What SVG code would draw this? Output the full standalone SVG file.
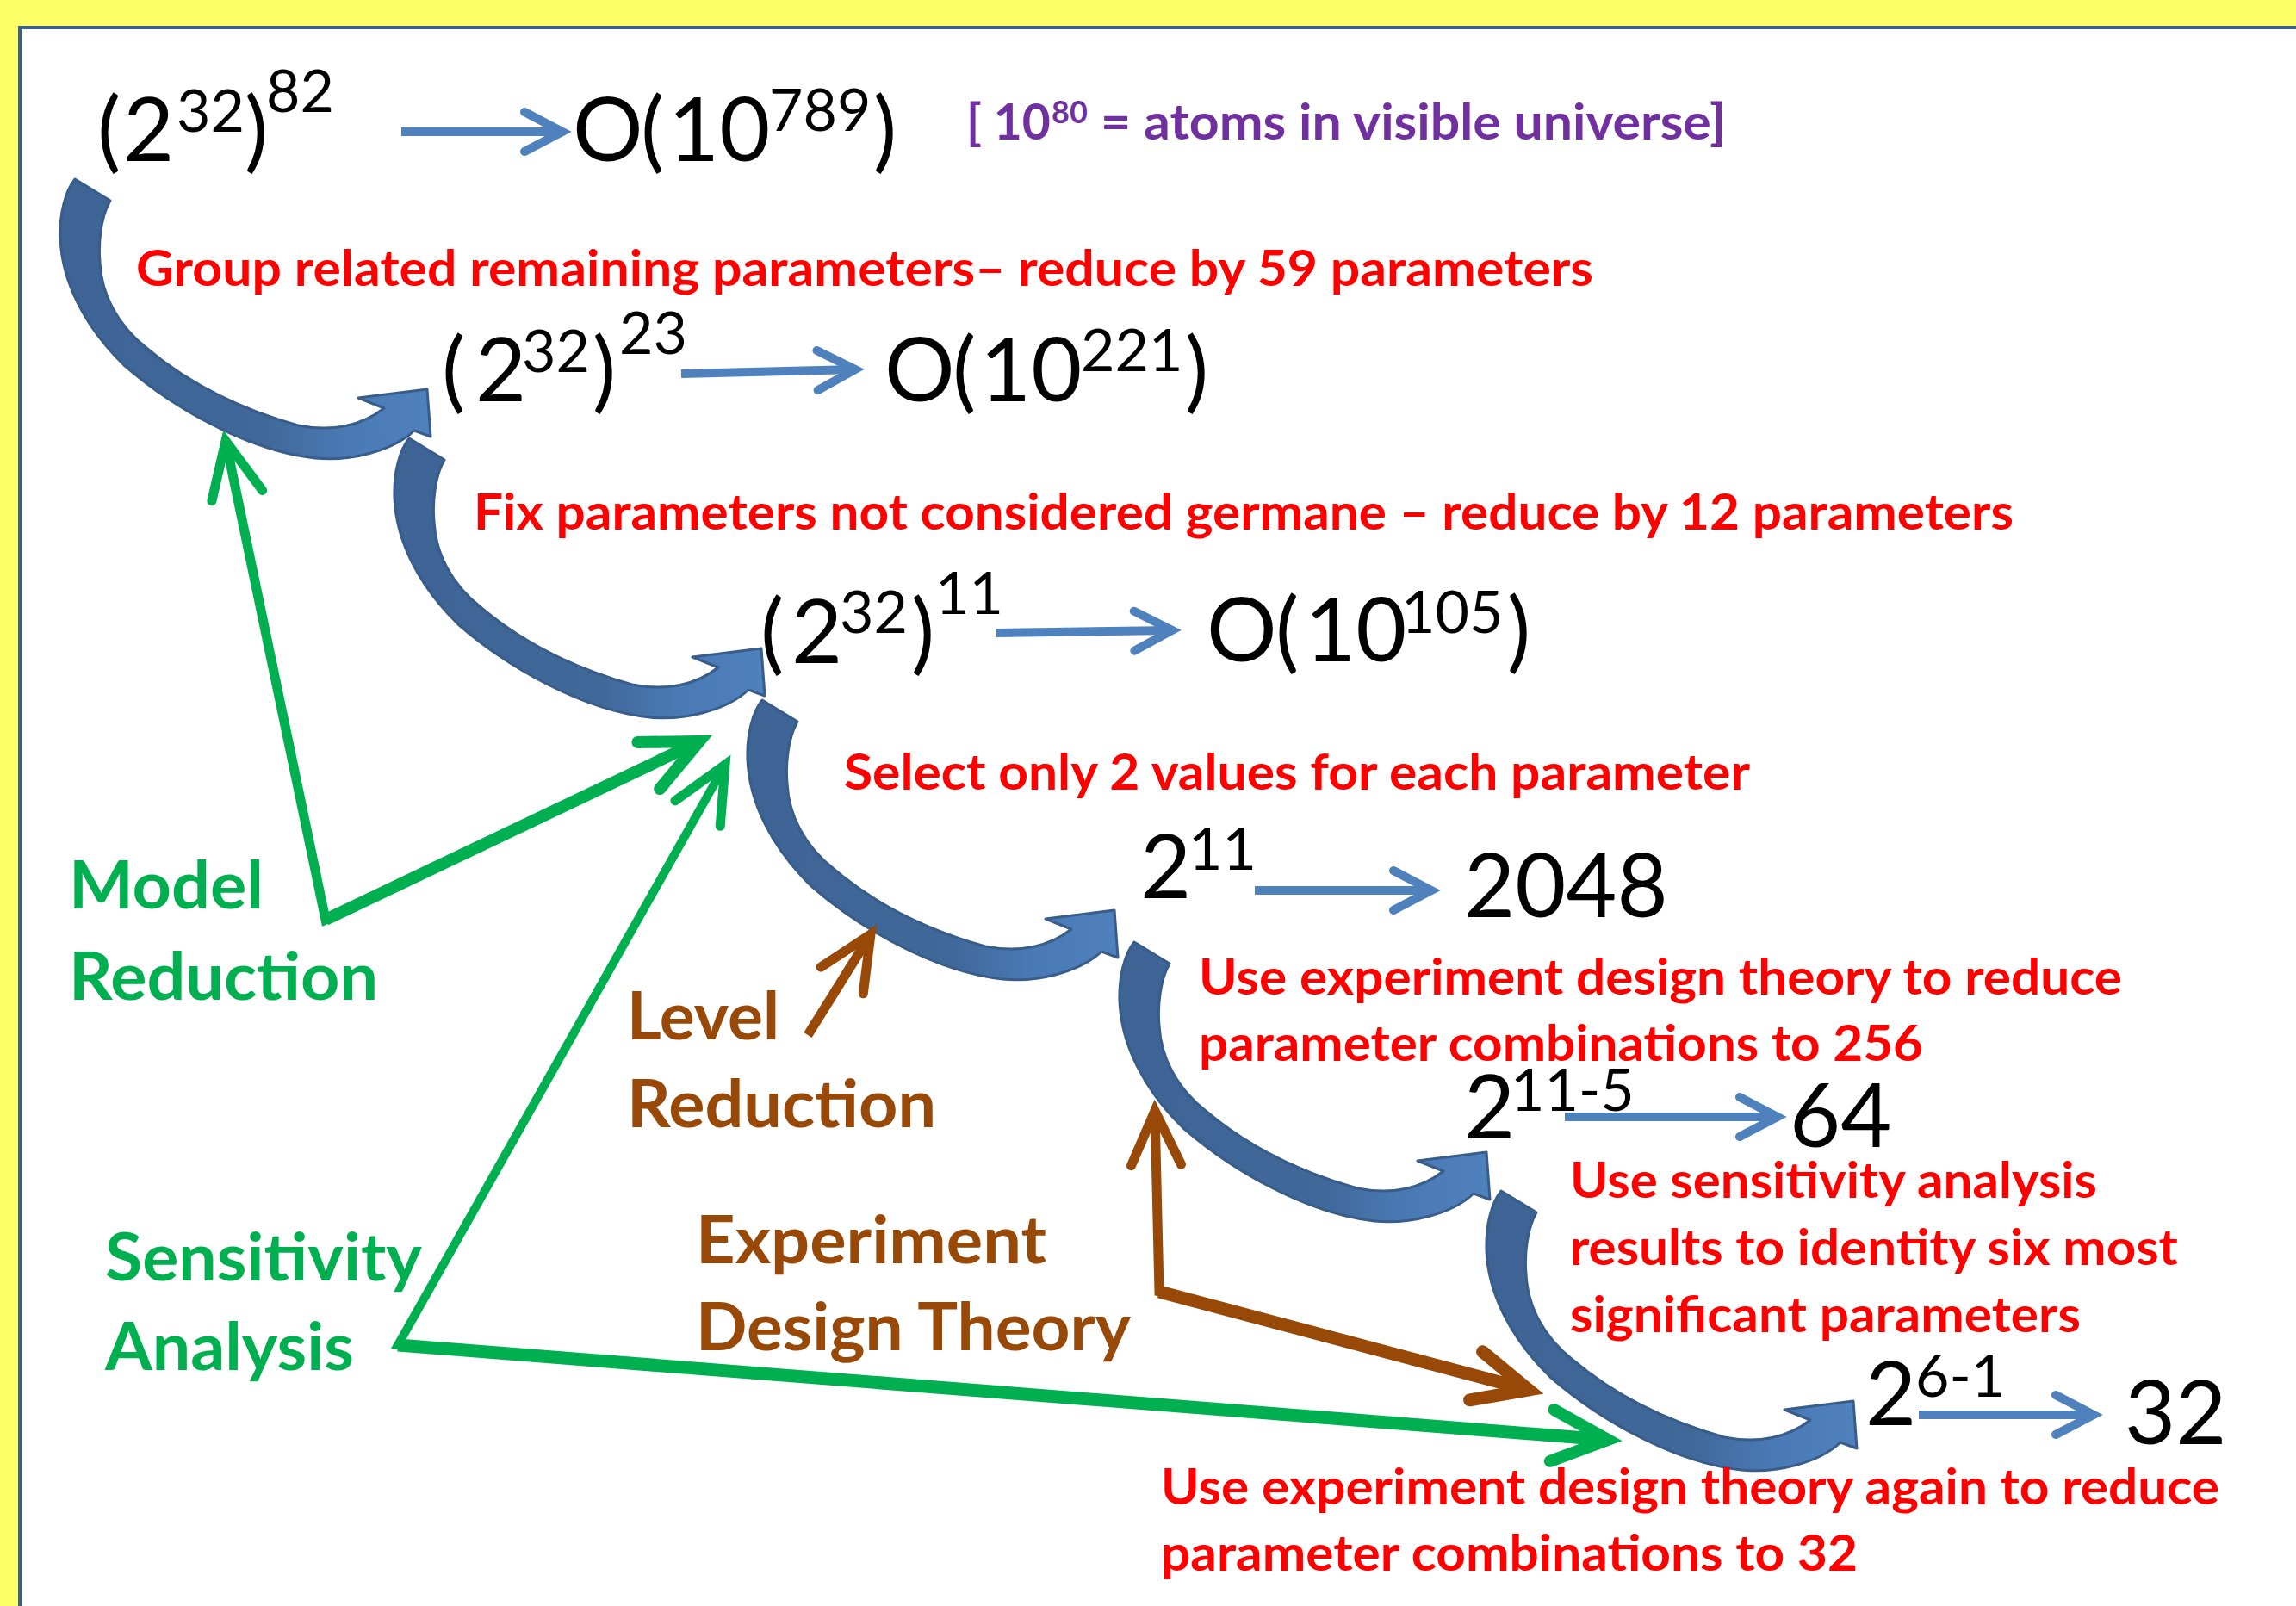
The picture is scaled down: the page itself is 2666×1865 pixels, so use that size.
<svg xmlns="http://www.w3.org/2000/svg" width="2666" height="1865" viewBox="0 0 2666 1865">
<defs>
<style>
.m{font-family:Lato,"Liberation Sans",sans-serif;fill:#000}
.b{font-size:102px}
.s{font-size:68px}
.r{font-family:Lato,"Liberation Sans",sans-serif;font-weight:700;font-size:57px;fill:#FF0000}
.p{font-family:Lato,"Liberation Sans",sans-serif;font-weight:700;font-size:57px;fill:#7030A0}
.g{font-family:Lato,"Liberation Sans",sans-serif;font-weight:700;font-size:76px;fill:#00B050}
.o{font-family:Lato,"Liberation Sans",sans-serif;font-weight:700;font-size:76px;fill:#984807}
.sh{fill:none;stroke:#4F81BD;stroke-width:10}
.gl{fill:none;stroke:#00B050;stroke-linejoin:miter;stroke-miterlimit:10}
.bl{fill:none;stroke:#984807;stroke-linejoin:miter;stroke-miterlimit:10}
.ca{fill:url(#cg);stroke:#385D8A;stroke-width:3;stroke-linejoin:round}
</style>
<linearGradient id="cg" x1="0" y1="0" x2="1" y2="0">
<stop offset="0" stop-color="#3D6494"/>
<stop offset="0.55" stop-color="#406899"/>
<stop offset="0.78" stop-color="#4A7AB5"/>
<stop offset="1" stop-color="#4F81BD"/>
</linearGradient>
<path id="carrow" d="M-409 -244 L-368 -219 C-379 -200 -382 -170 -380 -147 C-378 -110 -360 -75 -326 -48 C-286 -14 -228 20 -150 42 C-110 50 -75 42 -50 22 L-80 10 L0 0 L4 55 L-15 48 C-40 72 -90 84 -130 80 C-205 72 -292 24 -352 -28 C-398 -73 -424 -125 -426 -175 C-427 -205 -420 -230 -409 -244 Z"/>
<marker id="mblue" markerUnits="userSpaceOnUse" viewBox="-60 -40 90 80" refX="0" refY="0" markerWidth="90" markerHeight="80" orient="auto" style="overflow:visible">
<path d="M-44 -23 L0 0 L-44 23" fill="none" stroke="#4F81BD" stroke-width="10" stroke-linecap="round" stroke-linejoin="miter"/>
</marker>
<marker id="mgT" markerUnits="userSpaceOnUse" viewBox="-80 -50 120 100" refX="0" refY="0" markerWidth="120" markerHeight="100" orient="auto-start-reverse" style="overflow:visible">
<path d="M-65 -30 L0 0 L-65 30" fill="none" stroke="#00B050" stroke-width="11" stroke-linecap="round" stroke-linejoin="miter"/>
</marker>
<marker id="mgK" markerUnits="userSpaceOnUse" viewBox="-80 -50 120 100" refX="0" refY="0" markerWidth="120" markerHeight="100" orient="auto" style="overflow:visible">
<path d="M-65 -30 L0 0 L-65 30" fill="none" stroke="#00B050" stroke-width="14" stroke-linecap="round" stroke-linejoin="miter"/>
</marker>
<marker id="mbT" markerUnits="userSpaceOnUse" viewBox="-80 -50 120 100" refX="0" refY="0" markerWidth="120" markerHeight="100" orient="auto-start-reverse" style="overflow:visible">
<path d="M-63 -29 L0 0 L-63 29" fill="none" stroke="#984807" stroke-width="11" stroke-linecap="round" stroke-linejoin="miter"/>
</marker>
<marker id="mbK" markerUnits="userSpaceOnUse" viewBox="-80 -50 120 100" refX="0" refY="0" markerWidth="120" markerHeight="100" orient="auto" style="overflow:visible">
<path d="M-63 -29 L0 0 L-63 29" fill="none" stroke="#984807" stroke-width="15" stroke-linecap="round" stroke-linejoin="miter"/>
</marker>
</defs>

<rect x="0" y="0" width="2666" height="1865" fill="#FFFF66"/>
<rect x="23" y="32" width="2700" height="1900" fill="#FFFFFF" stroke="#3A5F8E" stroke-width="4"/>

<g id="connectors">
  <use href="#carrow" class="ca" transform="translate(496 452)"/>
  <use href="#carrow" class="ca" transform="translate(884 753)"/>
  <use href="#carrow" class="ca" transform="translate(1294 1057)"/>
  <use href="#carrow" class="ca" transform="translate(1726 1338)"/>
  <use href="#carrow" class="ca" transform="translate(2152 1627)"/>
  <path class="sh" d="M466 153 L653 153" marker-end="url(#mblue)"/>
  <path class="sh" d="M791 434 L993 429" marker-end="url(#mblue)"/>
  <path class="sh" d="M1157 735 L1361 732" marker-end="url(#mblue)"/>
  <path class="sh" d="M1457 1034 L1662 1034" marker-end="url(#mblue)"/>
  <path class="sh" d="M1817 1297 L2064 1297" marker-end="url(#mblue)"/>
  <path class="sh" d="M2228 1643 L2431 1643" marker-end="url(#mblue)"/>
  <path class="gl" stroke-width="11" d="M262 512 L378 1068 L812 861" marker-start="url(#mgT)"/>
  <path class="gl" stroke-width="14" d="M378 1068 L812 861" marker-end="url(#mgK)"/>
  <path class="gl" stroke-width="10" d="M842 888 L462 1562 L1867 1672" marker-start="url(#mgT)"/>
  <path class="gl" stroke-width="15" d="M462 1562 L1867 1672" marker-end="url(#mgK)"/>
  <path class="bl" stroke-width="11" d="M938 1202 L1011 1085" marker-end="url(#mbT)"/>
  <path class="bl" stroke-width="11" d="M1341 1290 L1346 1500 L1775 1614" marker-start="url(#mbT)"/>
  <path class="bl" stroke-width="15" d="M1346 1500 L1775 1614" marker-end="url(#mbK)"/>
</g>

<g id="n-row1">
  <text class="m b" x="113" y="187">(</text>
  <text class="m b" x="143" y="187">2</text>
  <text class="m s" x="205" y="153">32</text>
  <text class="m b" x="284" y="187">)</text>
  <text class="m s" x="309" y="130">82</text>
  <text class="m b" x="665" y="187">O</text>
  <text class="m b" x="744" y="187">(</text>
  <text class="m b" x="776" y="187">10</text>
  <text class="m s" x="893" y="152">789</text>
  <text class="m b" x="1014" y="187">)</text>
</g>
<g id="n-note">
  <text class="p" x="1122" y="162">[ 10</text>
  <text class="p" x="1221" y="143" style="font-size:36px">80</text>
  <text class="p" x="1278" y="162" textLength="726" lengthAdjust="spacingAndGlyphs">= atoms in visible universe]</text>
</g>
<g id="n-step1">
  <text class="r" x="158" y="332" textLength="1692" lengthAdjust="spacingAndGlyphs">Group related remaining parameters– reduce by 59 parameters</text>
</g>
<g id="n-row2">
  <text class="m b" x="513" y="466">(</text>
  <text class="m b" x="552" y="466">2</text>
  <text class="m s" x="606" y="432">32</text>
  <text class="m b" x="688" y="466">)</text>
  <text class="m s" x="719" y="411">23</text>
  <text class="m b" x="1027" y="466">O</text>
  <text class="m b" x="1106" y="466">(</text>
  <text class="m b" x="1138" y="466">10</text>
  <text class="m s" x="1255" y="431">221</text>
  <text class="m b" x="1376" y="466">)</text>
</g>
<g id="n-step2">
  <text class="r" x="550" y="615" textLength="1788" lengthAdjust="spacingAndGlyphs">Fix parameters not considered germane – reduce by 12 parameters</text>
</g>
<g id="n-row3">
  <text class="m b" x="883" y="770">(</text>
  <text class="m b" x="919" y="770">2</text>
  <text class="m s" x="975" y="735">32</text>
  <text class="m b" x="1058" y="770">)</text>
  <text class="m s" x="1086" y="713">11</text>
  <text class="m b" x="1401" y="768">O</text>
  <text class="m b" x="1481" y="768">(</text>
  <text class="m b" x="1515" y="768">10</text>
  <text class="m s" x="1627" y="735">105</text>
  <text class="m b" x="1750" y="768">)</text>
</g>
<g id="n-step3">
  <text class="r" x="980" y="917" textLength="1052" lengthAdjust="spacingAndGlyphs">Select only 2 values for each parameter</text>
</g>
<g id="n-row4">
  <text class="m b" x="1324" y="1043">2</text>
  <text class="m s" x="1380" y="1010">11</text>
  <text class="m b" x="1700" y="1065">2048</text>
</g>
<g id="n-step4">
  <text class="r" x="1392" y="1155" textLength="1072" lengthAdjust="spacingAndGlyphs">Use experiment design theory to reduce</text>
  <text class="r" x="1392" y="1232" textLength="841" lengthAdjust="spacingAndGlyphs">parameter combinations to 256</text>
</g>
<g id="n-row5">
  <text class="m b" x="1700" y="1322">2</text>
  <text class="m s" x="1754" y="1290">11-5</text>
  <text class="m b" x="2078" y="1332">64</text>
</g>
<g id="n-step5">
  <text class="r" x="1823" y="1391" textLength="612" lengthAdjust="spacingAndGlyphs">Use sensitivity analysis</text>
  <text class="r" x="1823" y="1469" textLength="706" lengthAdjust="spacingAndGlyphs">results to identity six most</text>
  <text class="r" x="1823" y="1547" textLength="593" lengthAdjust="spacingAndGlyphs">significant parameters</text>
</g>
<g id="n-row6">
  <text class="m b" x="2166" y="1655">2</text>
  <text class="m s" x="2224" y="1622">6-1</text>
  <text class="m b" x="2467" y="1677">32</text>
</g>
<g id="n-step6">
  <text class="r" x="1348" y="1747" textLength="1229" lengthAdjust="spacingAndGlyphs">Use experiment design theory again to reduce</text>
  <text class="r" x="1348" y="1824" textLength="809" lengthAdjust="spacingAndGlyphs">parameter combinations to 32</text>
</g>
<g id="n-model-reduction">
  <text class="g" x="80" y="1055" textLength="226" lengthAdjust="spacingAndGlyphs">Model</text>
  <text class="g" x="80" y="1161" textLength="359" lengthAdjust="spacingAndGlyphs">Reduction</text>
</g>
<g id="n-sensitivity-analysis">
  <text class="g" x="122" y="1487" textLength="368" lengthAdjust="spacingAndGlyphs">Sensitivity</text>
  <text class="g" x="122" y="1591" textLength="289" lengthAdjust="spacingAndGlyphs">Analysis</text>
</g>
<g id="n-level-reduction">
  <text class="o" x="728" y="1207" textLength="177" lengthAdjust="spacingAndGlyphs">Level</text>
  <text class="o" x="728" y="1309" textLength="359" lengthAdjust="spacingAndGlyphs">Reduction</text>
</g>
<g id="n-experiment-design-theory">
  <text class="o" x="808" y="1467" textLength="407" lengthAdjust="spacingAndGlyphs">Experiment</text>
  <text class="o" x="808" y="1568" textLength="505" lengthAdjust="spacingAndGlyphs">Design Theory</text>
</g>
</svg>
